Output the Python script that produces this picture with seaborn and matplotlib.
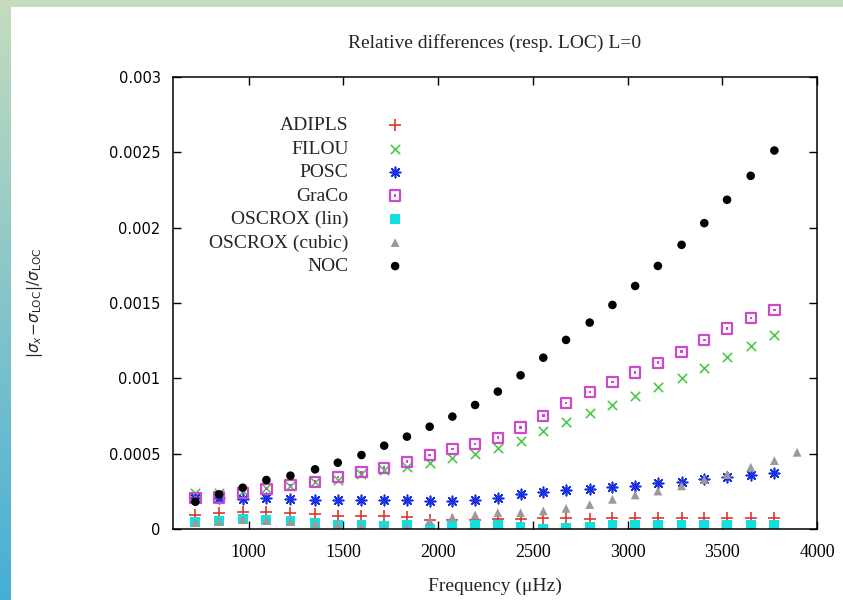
import numpy as np
import pandas as pd
import matplotlib
matplotlib.use("Agg")
import matplotlib.pyplot as plt
import seaborn as sns
from matplotlib.colors import LinearSegmentedColormap
from matplotlib.patches import Rectangle
from matplotlib.legend_handler import HandlerTuple

# Radial (L=0) mode frequencies in microhertz
freq = [718, 843, 968, 1093, 1220, 1350, 1470, 1595, 1715, 1835, 1955, 2075,
        2195, 2315, 2435, 2555, 2675, 2800, 2920, 3040, 3160, 3285, 3405,
        3525, 3650, 3775, 3895]

# Relative frequency differences with respect to LOC
adipls = [0.000093, 0.000104, 0.000110, 0.000112, 0.000104, 0.000100, 0.000088,
          0.000086, 0.000086, 0.000078, 0.000060, 0.000060, 0.000060, 0.000064,
          0.000064, 0.000075, 0.000075, 0.000068, 0.000071, 0.000071, 0.000071,
          0.000071, 0.000071, 0.000071, 0.000071, 0.000071]
filou = [0.000237, 0.000237, 0.000255, 0.000270, 0.000285, 0.000310, 0.000325,
         0.000365, 0.000392, 0.000414, 0.000440, 0.000469, 0.000498, 0.000540,
         0.000586, 0.000653, 0.000712, 0.000768, 0.000823, 0.000880, 0.000941,
         0.001001, 0.001071, 0.001144, 0.001215, 0.001288]
posc = [0.000205, 0.000204, 0.000200, 0.000204, 0.000197, 0.000190, 0.000190,
        0.000193, 0.000193, 0.000193, 0.000186, 0.000186, 0.000190, 0.000204,
        0.000230, 0.000248, 0.000259, 0.000266, 0.000277, 0.000286, 0.000303,
        0.000314, 0.000330, 0.000347, 0.000359, 0.000370]
graco = [0.000208, 0.000210, 0.000237, 0.000264, 0.000292, 0.000314, 0.000347,
         0.000376, 0.000407, 0.000447, 0.000491, 0.000531, 0.000564, 0.000606,
         0.000673, 0.000752, 0.000835, 0.000908, 0.000975, 0.001038, 0.001104,
         0.001177, 0.001255, 0.001330, 0.001399, 0.001454]
oscrox_lin = [0.000049, 0.000052, 0.000064, 0.000062, 0.000052, 0.000042,
              0.000027, 0.000027, 0.000020, 0.000027, 0.000002, 0.000027,
              0.000024, 0.000027, 0.000011, 0.000002, 0.000008, 0.000011,
              0.000025, 0.000027, 0.000027, 0.000027, 0.000027, 0.000027,
              0.000027, 0.000027]
oscrox_cubic = [0.000042, 0.000049, 0.000062, 0.000056, 0.000049, 0.000038,
                0.000027, 0.000020, 0.000004, 0.000011, 0.000055, 0.000078,
                0.000093, 0.000108, 0.000108, 0.000120, 0.000137, 0.000162,
                0.000197, 0.000226, 0.000252, 0.000286, 0.000328, 0.000361,
                0.000410, 0.000454, 0.000509]
noc = [0.000181, 0.000230, 0.000274, 0.000325, 0.000354, 0.000396, 0.000440,
       0.000491, 0.000553, 0.000613, 0.000679, 0.000746, 0.000823, 0.000912,
       0.001020, 0.001137, 0.001255, 0.001370, 0.001487, 0.001613, 0.001746,
       0.001886, 0.002030, 0.002185, 0.002344, 0.002512]

xticks = [1000, 1500, 2000, 2500, 3000, 3500, 4000]
xtick_labels = ["1000", "1500", "2000", "2500", "3000", "3500", "4000"]
yticks = [0, 0.0005, 0.001, 0.0015, 0.002, 0.0025, 0.003]
ytick_labels = ["0", "0.0005", "0.001", "0.0015", "0.002", "0.0025", "0.003"]

sns.set_theme(style="ticks")
plt.rcParams["font.family"] = ["Liberation Serif", "DejaVu Serif"]
plt.rcParams["mathtext.fontset"] = "dejavusans"

W, H = 843, 600
fig = plt.figure(figsize=(W / 100, H / 100), dpi=100)
fig.patch.set_facecolor("white")

# decorative frame: green strip on top, green-to-blue strip on the left
fig.patches.append(Rectangle((0, 1 - 7 / H), 1, 7 / H, transform=fig.transFigure,
                             facecolor="#c5dcbd", edgecolor="none", zorder=0))
band = fig.add_axes([0, 0, 11 / W, 1])
band.imshow(np.linspace(0, 1, 256)[:, None], aspect="auto",
            cmap=LinearSegmentedColormap.from_list("band", ["#c5dcbd", "#46afd6"]))
band.axis("off")

ax = fig.add_axes([173 / W, 1 - 529 / H, 644 / W, 452 / H])
ax.set_facecolor("white")


def frame(values, name):
    return pd.DataFrame({"freq": freq[:len(values)], "diff": values, "code": name})


lw_line = 1.2
sns.scatterplot(data=frame(adipls, "ADIPLS"), x="freq", y="diff", ax=ax, marker="+",
                color="#dd3a2c", s=80, linewidth=lw_line, label="ADIPLS", legend=False)
sns.scatterplot(data=frame(filou, "FILOU"), x="freq", y="diff", ax=ax, marker="x",
                color="#4cc94c", s=45, linewidth=lw_line, label="FILOU", legend=False)
sns.scatterplot(data=frame(posc, "POSC"), x="freq", y="diff", ax=ax, marker=(8, 2, 0),
                color="#1830e0", s=55, linewidth=lw_line, label="POSC", legend=False)
sns.scatterplot(data=frame(graco, "GraCo"), x="freq", y="diff", ax=ax, marker="s",
                color="#cc4acc", facecolor="none", edgecolor="#cc4acc", s=55,
                linewidth=1.6, label="GraCo", legend=False)
sns.scatterplot(data=frame(graco, "GraCo"), x="freq", y="diff", ax=ax, marker="s",
                color="#cc4acc", edgecolor="none", s=3, legend=False)
sns.scatterplot(data=frame(oscrox_lin, "OSCROX (lin)"), x="freq", y="diff", ax=ax,
                marker="s", color="#12e0e0", edgecolor="none", s=50,
                label="OSCROX (lin)", legend=False)
sns.scatterplot(data=frame(oscrox_cubic, "OSCROX (cubic)"), x="freq", y="diff", ax=ax,
                marker="^", color="#9a9a9a", edgecolor="none", s=40,
                label="OSCROX (cubic)", legend=False)
sns.scatterplot(data=frame(noc, "NOC"), x="freq", y="diff", ax=ax, marker="o",
                color="black", edgecolor="none", s=38, label="NOC", legend=False)

ax.set_xlim(600, 4000)
ax.set_ylim(0, 0.003)
ax.set_xticks(xticks, xtick_labels, fontfamily=["Liberation Serif"], fontsize=13)
ax.set_yticks(yticks, ytick_labels, fontfamily=["DejaVu Sans"], fontsize=10.5)
ax.tick_params(direction="in", length=6, width=1, top=True, right=True,
               colors="black")
ax.tick_params(axis="x", pad=11)
ax.tick_params(axis="y", pad=9)
for sp in ax.spines.values():
    sp.set_visible(True)
    sp.set_color("black")
    sp.set_linewidth(1.1)

ax.set_title("Relative differences (resp. LOC) L=0", fontsize=14, pad=21)
ax.set_xlabel("Frequency (μHz)", fontsize=14, labelpad=12)
ax.set_ylabel(r"$|\sigma_x\!-\!\sigma_{\mathrm{LOC}}|/\sigma_{\mathrm{LOC}}$",
              fontsize=11, fontfamily=["DejaVu Sans"])
ax.yaxis.set_label_coords(-0.198, 0.5)

handles, labels = ax.get_legend_handles_labels()
dot = ax.collections[4]
handles = [(h, dot) if l == "GraCo" else h for h, l in zip(handles, labels)]
ax.legend(handles, labels, loc="upper right", bbox_to_anchor=(0.36, 0.912),
          frameon=False, markerfirst=False, fontsize=14, handlelength=1.0,
          handletextpad=1.9, labelspacing=0.3, borderpad=0, borderaxespad=0,
          handler_map={tuple: HandlerTuple(ndivide=1, pad=0)})

fig.savefig("out.png", dpi=100)
